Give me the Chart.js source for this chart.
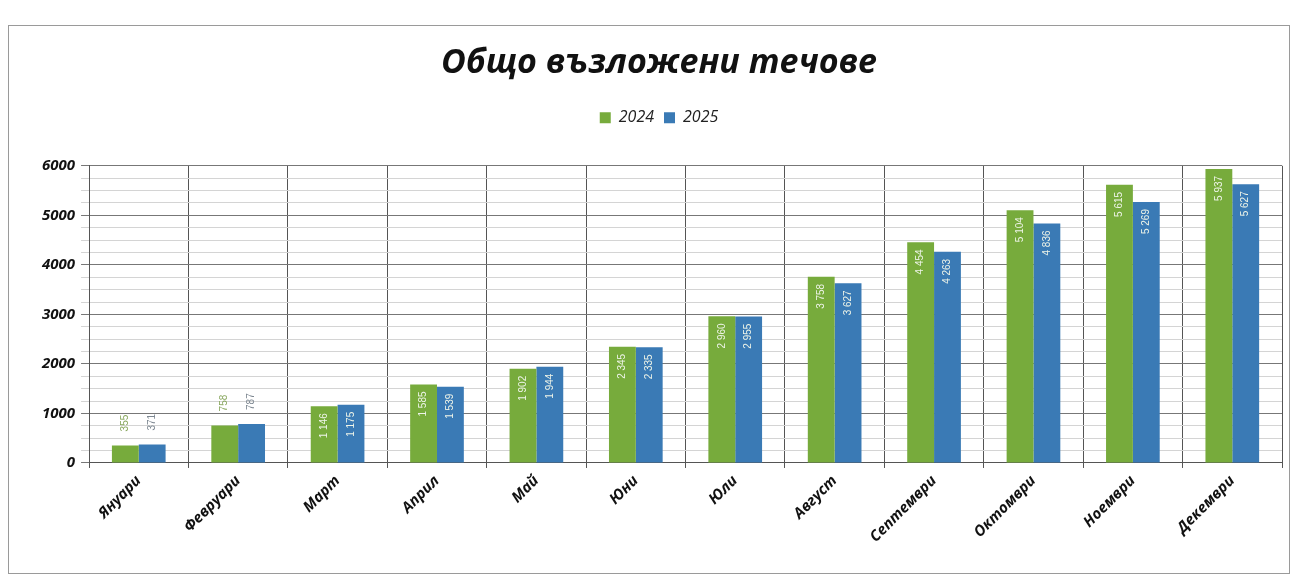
<!DOCTYPE html>
<html>
<head>
<meta charset="utf-8">
<script src="https://cdn.jsdelivr.net/npm/chart.js@4"></script>
<style>
  html, body { margin: 0; padding: 0; background: #fff; }
  #wrap { position: relative; width: 1299px; height: 580px; }
  #frame { position: absolute; left: 8px; top: 25px; width: 1282px; height: 549px; border: 1px solid #9a9a9a; box-sizing: border-box; }
  canvas { position: absolute; left: 0; top: 0; }
</style>
</head>
<body>
<div id="wrap">
  <div id="frame"></div>
  <canvas id="c" width="1299" height="580"></canvas>
</div>
<script>
const months = ['Януари','Февруари','Март','Април','Май','Юни','Юли','Август','Септември','Октомври','Ноември','Декември'];
const values2024 = [355, 758, 1146, 1585, 1902, 2345, 2960, 3758, 4454, 5104, 5615, 5937];
const values2025 = [371, 787, 1175, 1539, 1944, 2335, 2955, 3627, 4263, 4836, 5269, 5627];
const seriesNames = ['2024', '2025'];
const yTickValues = [0, 250, 500, 750, 1000, 1250, 1500, 1750, 2000, 2250, 2500, 2750, 3000, 3250, 3500, 3750, 4000, 4250, 4500, 4750, 5000, 5250, 5500, 5750, 6000];

const green = '#77ab3c';
const blue = '#3a7ab5';

function fmt(v) {
  const s = String(v);
  return s.length > 3 ? s.slice(0, s.length - 3) + ' ' + s.slice(-3) : s;
}

const labelPlugin = {
  id: 'barLabels',
  afterDatasetsDraw(chart) {
    const ctx = chart.ctx;
    chart.data.datasets.forEach((ds, di) => {
      const meta = chart.getDatasetMeta(di);
      meta.data.forEach((bar, i) => {
        const v = ds.data[i];
        const txt = fmt(v);
        ctx.save();
        ctx.font = '10px "Liberation Sans", Arial, sans-serif';
        ctx.translate(bar.x, bar.y);
        ctx.rotate(-Math.PI / 2);
        ctx.textBaseline = 'middle';
        if (v < 1000) {
          ctx.fillStyle = di === 0 ? '#8aa860' : '#7d8791';
          ctx.textAlign = 'left';
          ctx.fillText(txt, 14, 0);
        } else {
          ctx.fillStyle = '#eef4e8';
          ctx.textAlign = 'right';
          ctx.fillText(txt, -7, 0);
        }
        ctx.restore();
      });
    });
  }
};

const legendSpace = {
  id: 'legendSpace',
  beforeInit(chart) {
    const origFit = chart.legend.fit;
    chart.legend.fit = function () {
      origFit.call(this);
      this.height += 30;
    };
  }
};

new Chart(document.getElementById('c'), {
  type: 'bar',
  data: {
    labels: months,
    datasets: [
      { label: seriesNames[0], data: values2024, backgroundColor: green, categoryPercentage: 0.54, barPercentage: 1.0 },
      { label: seriesNames[1], data: values2025, backgroundColor: blue, categoryPercentage: 0.54, barPercentage: 1.0 }
    ]
  },
  options: {
    responsive: false,
    animation: false,
    layout: { padding: { left: 36, right: 17, top: 43, bottom: 30 } },
    plugins: {
      title: {
        display: true,
        text: 'Общо възложени течове',
        color: '#111',
        font: { family: '"Open Sans", sans-serif', size: 34, weight: 'bold', style: 'italic' },
        padding: { top: 0, bottom: 16 }
      },
      legend: {
        display: true,
        labels: {
          color: '#222',
          boxWidth: 11, boxHeight: 11,
          padding: 10,
          font: { family: '"Open Sans", sans-serif', size: 16, style: 'italic' }
        }
      },
      tooltip: { enabled: false }
    },
    scales: {
      x: {
        grid: { display: true, color: '#555', lineWidth: 1, offset: true, drawTicks: true, tickLength: 5 },
        border: { color: '#555' },
        ticks: {
          color: '#111',
          maxRotation: 45, minRotation: 45,
          padding: 4,
          font: { family: '"Open Sans", sans-serif', size: 15, weight: 'bold', style: 'italic' }
        }
      },
      y: {
        min: 0, max: 6000,
        afterBuildTicks(axis) { axis.ticks = yTickValues.map(v => ({ value: v })); },
        grid: {
          color: (c) => (c.tick && c.tick.value % 1000 === 0) ? '#777' : '#d4d4d4',
          tickLength: 8
        },
        border: { color: '#555' },
        ticks: {
          color: '#111',
          padding: 6,
          autoSkip: false,
          callback: (v) => (v % 1000 === 0 ? String(v) : ''),
          font: { family: '"Open Sans", sans-serif', size: 15, weight: 'bold', style: 'italic' }
        }
      }
    }
  },
  plugins: [labelPlugin, legendSpace]
});
</script>
</body>
</html>
